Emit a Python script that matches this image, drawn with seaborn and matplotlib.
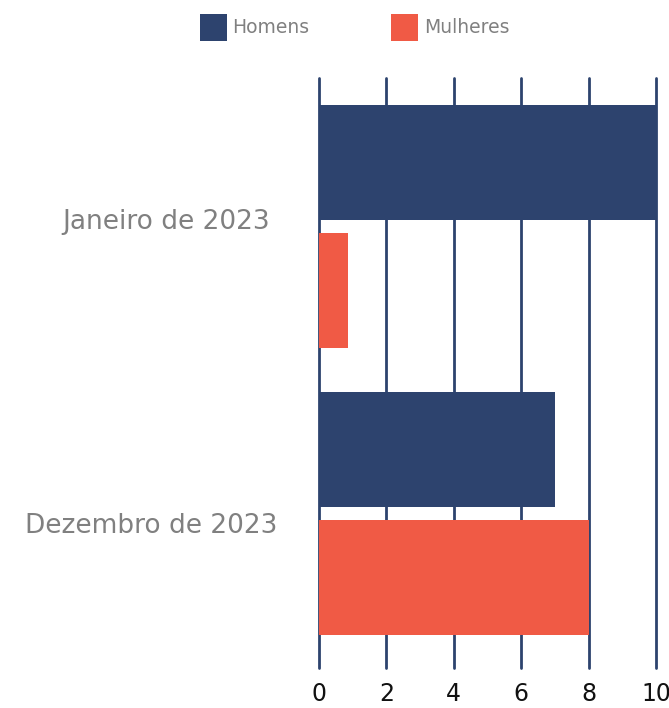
import matplotlib
matplotlib.use("Agg")
import matplotlib.pyplot as plt
import matplotlib.transforms as mtrans
import seaborn as sns
import pandas as pd
from matplotlib.patches import Patch

categories = ["Janeiro de 2023", "Dezembro de 2023"]
series_names = ["Homens", "Mulheres"]
homens = [10, 7]
mulheres = [0.86, 8]
x_ticks = [0, 2, 4, 6, 8, 10]

navy = "#2d436e"
red = "#f05a45"
gray = "#808080"

rows = []
for c, h, m in zip(categories, homens, mulheres):
    rows.append({"cat": c, "serie": series_names[0], "val": h})
    rows.append({"cat": c, "serie": series_names[1], "val": m})
df = pd.DataFrame(rows)

sns.set_style("white")
plt.rcParams["font.family"] = ["DejaVu Sans"]

fig = plt.figure(figsize=(6.69, 7.08), dpi=100)
ax = fig.add_axes([319/669, 1-668/708, (656-319)/669, (668-78)/708])

sns.barplot(data=df, y="cat", x="val", hue="serie", orient="h",
            palette=[navy, red], width=0.892, gap=0.10, legend=False,
            ax=ax, zorder=3, saturation=1, linewidth=0, edgecolor="none")

ax.set_xlim(0, 10)
ax.set_ylim(1.538, -0.517)
ax.set_xticks(x_ticks)
ax.set_xticklabels([str(t) for t in x_ticks], fontsize=17, color="#111111")
ax.set_xlabel("")
ax.set_ylabel("")
ax.tick_params(axis="x", length=0, pad=10)
ax.tick_params(axis="y", length=0, pad=33)
offsets = [(-3, 7), (4, -9)]
for lab, (dx, dy) in zip(ax.get_yticklabels(), offsets):
    lab.set_fontsize(19)
    lab.set_color(gray)
    lab.set_transform(lab.get_transform() + mtrans.ScaledTranslation(dx/100, dy/100, fig.dpi_scale_trans))
ax.grid(axis="x", color=navy, linewidth=2, zorder=0)
ax.grid(axis="y", visible=False)
ax.set_axisbelow(True)
for s in ax.spines.values():
    s.set_visible(False)
for gl in ax.get_xgridlines():
    gl.set_clip_on(False)

handles = [Patch(facecolor=navy, edgecolor="none"), Patch(facecolor=red, edgecolor="none")]
fig.legend(handles, series_names, loc="upper center", bbox_to_anchor=(0.53, 1.004),
           ncol=2, frameon=False, fontsize=13.5, labelcolor=gray,
           handlelength=1.45, handleheight=1.8, handletextpad=0.3, columnspacing=4.35)

fig.savefig("out.png", dpi=100)
